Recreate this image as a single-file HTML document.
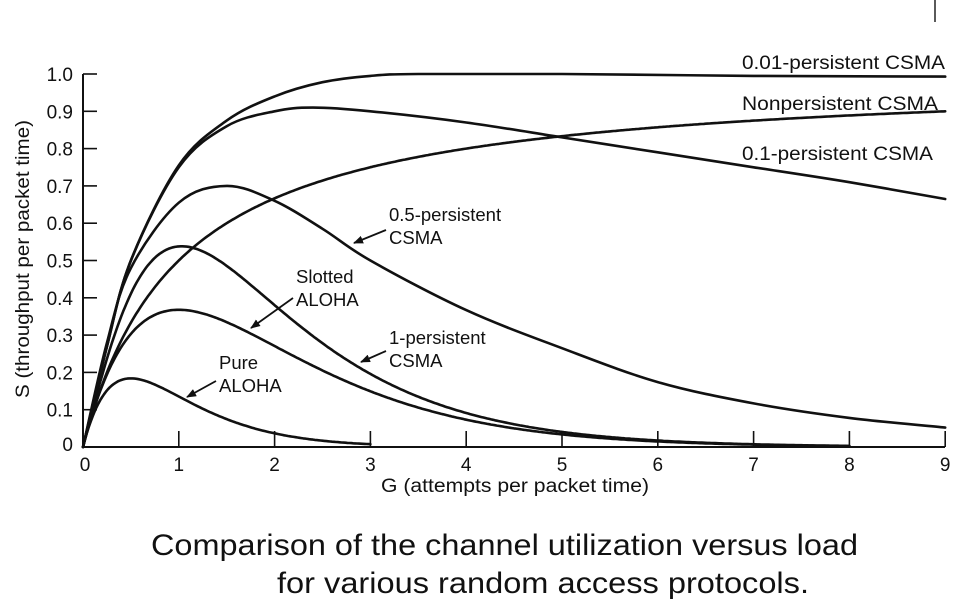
<!DOCTYPE html>
<html><head><meta charset="utf-8"><style>
html,body{margin:0;padding:0;background:#fff;}
svg{display:block;font-family:"Liberation Sans",Arial,sans-serif;}
</style></head><body>
<svg id="s" width="960" height="607" viewBox="0 0 960 607">
<defs><marker id="ah" markerWidth="10" markerHeight="8" refX="9" refY="4" orient="auto" markerUnits="userSpaceOnUse"><path d="M0,0 L10,4 L0,8 z" fill="#111"/></marker></defs>
<line x1="935" y1="0" x2="935" y2="22" stroke="#222" stroke-width="1.5"/>
<g stroke="#111" stroke-width="2" fill="none">
<line x1="83" y1="74" x2="83" y2="447"/>
<line x1="83" y1="447" x2="945" y2="447"/>
</g>
<g id="ticks" stroke="#111" stroke-width="1.6"></g>
<g id="curves" stroke="#111" stroke-width="2.6" fill="none" stroke-linejoin="round" stroke-linecap="round"></g>
<g font-size="19" fill="#111" id="tl"></g>
<text x="29" y="259" font-size="19" fill="#111" text-anchor="middle" textLength="278" lengthAdjust="spacingAndGlyphs" transform="rotate(-90 29 259)">S (throughput per packet time)</text>
<text x="381" y="492" font-size="19" fill="#111" textLength="268" lengthAdjust="spacingAndGlyphs">G (attempts per packet time)</text>
<g font-size="19" fill="#111">
<text x="742" y="69" textLength="203" lengthAdjust="spacingAndGlyphs">0.01-persistent CSMA</text>
<text x="742" y="110" textLength="196" lengthAdjust="spacingAndGlyphs">Nonpersistent CSMA</text>
<text x="742" y="160" textLength="191" lengthAdjust="spacingAndGlyphs">0.1-persistent CSMA</text>
</g>
<g font-size="18.5" fill="#111">
<text x="389" y="221">0.5-persistent</text>
<text x="389" y="244">CSMA</text>
<text x="296" y="283">Slotted</text>
<text x="296" y="306">ALOHA</text>
<text x="389" y="344">1-persistent</text>
<text x="389" y="367">CSMA</text>
<text x="219" y="369">Pure</text>
<text x="219" y="392">ALOHA</text>
</g>
<g stroke="#111" stroke-width="1.8" marker-end="url(#ah)">
<line x1="386" y1="230" x2="354" y2="243"/>
<line x1="293" y1="298" x2="251" y2="328"/>
<line x1="386" y1="351" x2="361" y2="362"/>
<line x1="216" y1="381" x2="187" y2="397"/>
</g>
<g font-size="30" fill="#111">
<text x="151" y="555" textLength="707" lengthAdjust="spacingAndGlyphs">Comparison of the channel utilization versus load</text>
<text x="277" y="593" textLength="532" lengthAdjust="spacingAndGlyphs">for various random access protocols.</text>
</g>
</svg>
<script>
var X=function(g){return 83+g*95.8;}, Y=function(s){return 447-s*373;};
var NS="http://www.w3.org/2000/svg";
function el(p,t,a,txt){var e=document.createElementNS(NS,t);for(var k in a)e.setAttribute(k,a[k]);if(txt!=null)e.textContent=txt;document.getElementById(p).appendChild(e);}
for(var i=1;i<=10;i++){el('ticks','line',{x1:83,x2:97,y1:Y(i/10),y2:Y(i/10)});el('tl','text',{x:73,y:Y(i/10)+7,'text-anchor':'end'},i==10?'1.0':'0.'+i);}
el('tl','text',{x:73,y:Y(0)+4,'text-anchor':'end'},'0');
for(var g=1;g<=9;g++){el('ticks','line',{x1:X(g),x2:X(g),y1:447,y2:431});el('tl','text',{x:X(g),y:471,'text-anchor':'middle'},''+g);}
el('tl','text',{x:X(0)+2,y:471,'text-anchor':'middle'},'0');
function fpath(f,a,b){var d='';for(var g=a;g<=b+1e-9;g+=0.02){d+=(d?'L':'M')+X(g).toFixed(1)+','+Y(f(g)).toFixed(1);}el('curves','path',{d:d});}
function cr(pts){var p=pts.map(function(q){return [X(q[0]),Y(q[1])];});var d='M'+p[0][0]+','+p[0][1];
for(var i=0;i<p.length-1;i++){var p0=p[Math.max(i-1,0)],p1=p[i],p2=p[i+1],p3=p[Math.min(i+2,p.length-1)];
d+='C'+(p1[0]+(p2[0]-p0[0])/6).toFixed(1)+','+(p1[1]+(p2[1]-p0[1])/6).toFixed(1)+' '+(p2[0]-(p3[0]-p1[0])/6).toFixed(1)+','+(p2[1]-(p3[1]-p1[1])/6).toFixed(1)+' '+p2[0].toFixed(1)+','+p2[1].toFixed(1);}
el('curves','path',{d:d});}
fpath(function(g){return g*Math.exp(-2*g);},0,3);
fpath(function(g){return g*Math.exp(-g);},0,8);
fpath(function(g){return g*(1+g)*Math.exp(-g)/(g+Math.exp(-g));},0,8);
fpath(function(g){return g/(1+g);},0,9);
cr([[0,0],[0.25,0.28],[0.5,0.48],[1,0.655],[1.5,0.70],[2,0.66],[2.5,0.585],[3,0.50],[4,0.367],[5,0.265],[6,0.174],[7,0.117],[8,0.078],[9,0.052]]);
cr([[0,0],[0.25,0.27],[0.5,0.5],[1,0.75],[1.5,0.86],[2,0.90],[2.4,0.91],[3,0.90],[4,0.87],[5,0.83],[6,0.79],[7,0.75],[8,0.71],[9,0.665]]);
cr([[0,0],[0.25,0.27],[0.5,0.5],[1,0.755],[1.5,0.875],[2,0.94],[2.5,0.978],[3,0.995],[3.5,1.0],[5,1.0],[7,0.995],[9,0.993]]);
</script>
</body></html>
